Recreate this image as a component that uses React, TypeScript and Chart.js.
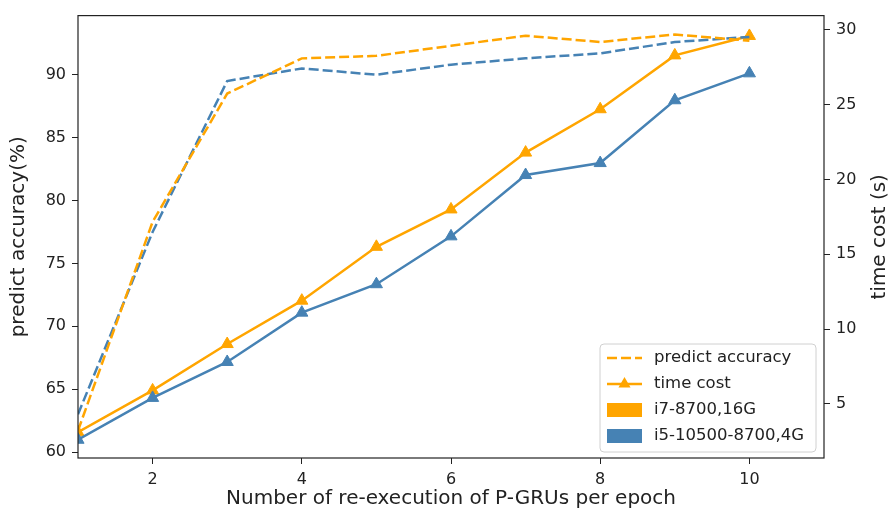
import React, { useEffect, useRef } from "react";
import { Chart, registerables } from "chart.js";

Chart.register(...registerables);

const xValues = [1, 2, 3, 4, 5, 6, 7, 8, 9, 10];
const accI7 = [61.7, 78.3, 88.5, 91.3, 91.5, 92.3, 93.1, 92.6, 93.2, 92.7];
const accI5 = [63.0, 77.5, 89.5, 90.5, 90.0, 90.8, 91.3, 91.7, 92.6, 93.0];
const timeI7 = [3.1, 5.9, 9.0, 11.9, 15.5, 18.0, 21.8, 24.7, 28.3, 29.6];
const timeI5 = [2.6, 5.4, 7.8, 11.1, 13.0, 16.2, 20.3, 21.1, 25.3, 27.1];

const xTicks = [2, 4, 6, 8, 10];
const accTicks = [60, 65, 70, 75, 80, 85, 90];
const timeTicks = [5, 10, 15, 20, 25, 30];

const legendLabels = ["predict accuracy", "time cost", "i7-8700,16G", "i5-10500-8700,4G"];

const ORANGE = "#FFA500";
const BLUE = "#4682B4";
const TEXT = "#222222";
const FONT = "'DejaVu Sans', sans-serif";

const toPoints = (ys: number[]) => xValues.map((x, i) => ({ x, y: ys[i] }));

export default function App() {
  const ref = useRef<HTMLCanvasElement | null>(null);

  useEffect(() => {
    if (!ref.current) return;

    const overlay = {
      id: "overlay",
      afterDraw(chart: any) {
        const ctx = chart.ctx;
        const a = chart.chartArea;
        ctx.save();
        ctx.strokeStyle = TEXT;
        ctx.lineWidth = 1.2;
        ctx.strokeRect(a.left, a.top, a.right - a.left, a.bottom - a.top);

        ctx.fillStyle = TEXT;
        ctx.font = `20px ${FONT}`;
        ctx.textAlign = "center";
        ctx.textBaseline = "middle";
        ctx.translate(880, (a.top + a.bottom) / 2);
        ctx.rotate(-Math.PI / 2);
        ctx.fillText("time cost (s)", 0, 0);
        ctx.restore();

        ctx.save();
        const lx = 600, ly = 344, lw = 216, lh = 108, r = 4;
        ctx.beginPath();
        ctx.moveTo(lx + r, ly);
        ctx.lineTo(lx + lw - r, ly);
        ctx.quadraticCurveTo(lx + lw, ly, lx + lw, ly + r);
        ctx.lineTo(lx + lw, ly + lh - r);
        ctx.quadraticCurveTo(lx + lw, ly + lh, lx + lw - r, ly + lh);
        ctx.lineTo(lx + r, ly + lh);
        ctx.quadraticCurveTo(lx, ly + lh, lx, ly + lh - r);
        ctx.lineTo(lx, ly + r);
        ctx.quadraticCurveTo(lx, ly, lx + r, ly);
        ctx.closePath();
        ctx.fillStyle = "rgba(255,255,255,0.85)";
        ctx.fill();
        ctx.strokeStyle = "#d0d0d0";
        ctx.lineWidth = 1;
        ctx.stroke();

        const sx0 = 607, sx1 = 642, tx = 654;
        const rows = [358, 384, 410, 436];
        ctx.lineWidth = 2.5;
        ctx.strokeStyle = ORANGE;
        ctx.setLineDash([10, 4]);
        ctx.beginPath();
        ctx.moveTo(sx0, rows[0]);
        ctx.lineTo(sx1, rows[0]);
        ctx.stroke();
        ctx.setLineDash([]);
        ctx.beginPath();
        ctx.moveTo(sx0, rows[1]);
        ctx.lineTo(sx1, rows[1]);
        ctx.stroke();
        const cx = (sx0 + sx1) / 2;
        const tr = 7;
        ctx.fillStyle = ORANGE;
        ctx.beginPath();
        ctx.moveTo(cx, rows[1] - tr);
        ctx.lineTo(cx + tr * 0.866, rows[1] + tr * 0.5);
        ctx.lineTo(cx - tr * 0.866, rows[1] + tr * 0.5);
        ctx.closePath();
        ctx.fill();
        ctx.fillStyle = ORANGE;
        ctx.fillRect(sx0, rows[2] - 7, sx1 - sx0, 14);
        ctx.fillStyle = BLUE;
        ctx.fillRect(sx0, rows[3] - 7, sx1 - sx0, 14);

        ctx.fillStyle = TEXT;
        ctx.font = `16.5px ${FONT}`;
        ctx.textAlign = "left";
        ctx.textBaseline = "middle";
        legendLabels.forEach((t, i) => ctx.fillText(t, tx, rows[i]));
        ctx.restore();
      },
    };

    const tickFont = { family: FONT, size: 16 };

    const timeDs = (ys: number[], color: string) => ({
      data: toPoints(ys),
      yAxisID: "yTime",
      borderColor: color,
      backgroundColor: color,
      borderWidth: 2.5,
      pointStyle: "triangle",
      pointRadius: 7,
      pointBorderWidth: 1,
      pointBackgroundColor: color,
      pointBorderColor: color,
      fill: false,
    });

    const accDs = (ys: number[], color: string) => ({
      data: toPoints(ys),
      yAxisID: "yAcc",
      borderColor: color,
      borderWidth: 2.5,
      borderDash: [10, 4],
      pointRadius: 0,
      fill: false,
    });

    const chart = new Chart(ref.current, {
      type: "line",
      data: {
        datasets: [
          accDs(accI7, ORANGE),
          accDs(accI5, BLUE),
          timeDs(timeI5, BLUE),
          timeDs(timeI7, ORANGE),
        ],
      },
      options: {
        responsive: false,
        animation: false,
        events: [],
        layout: { padding: { top: 6, left: 0, right: 0, bottom: 0 } },
        plugins: {
          legend: { display: false },
          tooltip: { enabled: false },
        },
        scales: {
          x: {
            type: "linear",
            position: "bottom",
            min: 1,
            max: 11,
            afterBuildTicks: (s: any) => {
              s.ticks = xTicks.map((v) => ({ value: v }));
            },
            afterFit: (s: any) => {
              s.height = 69;
            },
            border: { display: false },
            grid: { drawOnChartArea: false, drawTicks: true, tickLength: 6, color: TEXT, lineWidth: 1 },
            ticks: { font: tickFont, color: TEXT, padding: 6, maxRotation: 0 },
            title: {
              display: true,
              text: "Number of re-execution of P-GRUs per epoch",
              font: { family: FONT, size: 20 },
              color: TEXT,
              padding: { top: 0, bottom: 16 },
            },
          },
          yAcc: {
            type: "linear",
            position: "left",
            min: 59.53,
            max: 94.7,
            afterBuildTicks: (s: any) => {
              s.ticks = accTicks.map((v) => ({ value: v }));
            },
            afterFit: (s: any) => {
              s.width = 78;
            },
            border: { display: false },
            grid: { drawOnChartArea: false, drawTicks: true, tickLength: 6, color: TEXT, lineWidth: 1 },
            ticks: { font: tickFont, color: TEXT, padding: 6 },
            title: {
              display: true,
              text: "predict accuracy(%)",
              font: { family: FONT, size: 20 },
              color: TEXT,
              padding: { top: 7, bottom: 0 },
            },
          },
          yTime: {
            type: "linear",
            position: "right",
            min: 1.38,
            max: 30.96,
            afterBuildTicks: (s: any) => {
              s.ticks = timeTicks.map((v) => ({ value: v }));
            },
            afterFit: (s: any) => {
              s.width = 69;
            },
            border: { display: false },
            grid: { drawOnChartArea: false, drawTicks: true, tickLength: 6, color: TEXT, lineWidth: 1 },
            ticks: { font: tickFont, color: TEXT, padding: 6 },
          },
        },
      },
      plugins: [overlay],
    } as any);

    return () => chart.destroy();
  }, []);

  return (
    <div style={{ position: "fixed", left: 0, top: 0, width: 893, height: 527, background: "#fff" }}>
      <canvas ref={ref} width={893} height={527} style={{ width: 893, height: 527, display: "block" }} />
    </div>
  );
}
